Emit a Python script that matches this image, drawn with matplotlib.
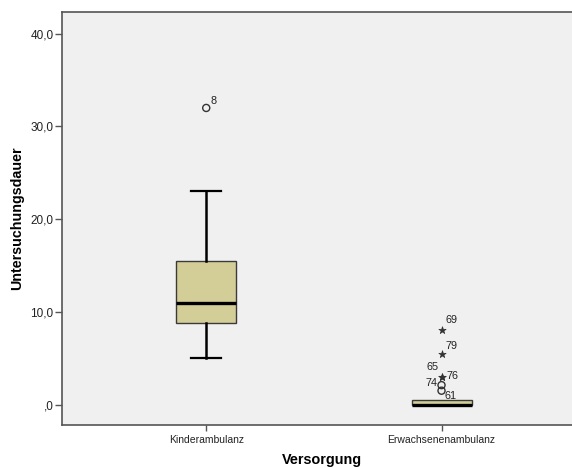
import matplotlib
matplotlib.use("Agg")
import matplotlib.pyplot as plt

# ---- data ----
categories = ["Kinderambulanz", "Erwachsenenambulanz"]
whislo = [5.0, 0.0]
q1 = [8.8, 0.0]
med = [11.0, 0.0]
q3 = [15.5, 0.5]
whishi = [23.0, 0.5]

# outliers (circles) and extremes (stars) with case labels
out_cat = [0, 1, 1]
out_val = [32.0, 2.1, 1.5]
out_lab = ["8", "74", "61"]
ext_cat = [1, 1, 1, 1]
ext_val = [3.0, 3.0, 5.5, 8.0]
ext_lab = ["65", "76", "79", "69"]

yticks = [0, 10, 20, 30, 40]
ytick_labels = [",0", "10,0", "20,0", "30,0", "40,0"]

# label offsets in pixels (dx, dy, ha)
out_off = [(4, 7, "left"), (-4, 2, "right"), (3, -5, "left")]
ext_off = [(-15, 10, "left"), (5, 1, "left"), (4, 8, "left"), (4, 10, "left")]

plt.rcParams["font.family"] = ["Liberation Sans", "DejaVu Sans"]

fig = plt.figure(figsize=(5.72, 4.68), dpi=100)
fig.patch.set_facecolor("white")
ax = fig.add_axes([62/572, 43/468, 1 - 62/572 + 0.001, 413/468])
ax.set_facecolor("#F0F0F0")

positions = [1, 2]
stats = []
for i in range(2):
    stats.append(dict(whislo=whislo[i], q1=q1[i], med=med[i], q3=q3[i],
                      whishi=whishi[i], fliers=[], label=categories[i]))

res = ax.bxp(stats, positions=positions, widths=0.255, capwidths=0.128,
             patch_artist=True, showfliers=False,
             boxprops=dict(facecolor="#D3CE97", edgecolor="#3A3A3A", linewidth=1.0),
             medianprops=dict(color="black", linewidth=2.4),
             whiskerprops=dict(color="black", linewidth=1.8),
             capprops=dict(color="black", linewidth=1.6))
# second group has no visible whiskers
for art in res["caps"][2:] + res["whiskers"][2:]:
    art.set_visible(False)

ox = [positions[c] for c in out_cat]
ax.scatter(ox, out_val, s=26, facecolors="none", edgecolors="#333333",
           linewidths=1.0, zorder=5)
ex = [positions[c] for c in ext_cat]
ax.scatter(ex, ext_val, s=30, marker="*", color="#333333",
           linewidths=0.5, zorder=5)

for x, y, lab, (dx, dy, ha) in zip(ox, out_val, out_lab, out_off):
    ax.annotate(lab, (x, y), xytext=(dx, dy), textcoords="offset pixels",
                ha=ha, va="center", fontsize=7.8, color="#222222")
for x, y, lab, (dx, dy, ha) in zip(ex, ext_val, ext_lab, ext_off):
    ax.annotate(lab, (x, y), xytext=(dx, dy), textcoords="offset pixels",
                ha=ha, va="center", fontsize=7.8, color="#222222")

ax.set_xlim(0.387, 2.557)
ax.set_ylim(-2.2, 42.35)
ax.set_yticks(yticks)
ax.set_yticklabels(ytick_labels)
ax.set_xticks(positions)
ax.set_xticklabels(categories)

for s in ["left", "bottom", "top"]:
    ax.spines[s].set_color("#555555")
    ax.spines[s].set_linewidth(1.2)
ax.spines["right"].set_visible(False)

ax.tick_params(axis="y", direction="out", length=5, width=1, color="#555555",
               labelsize=8.5, labelcolor="#222222", pad=1)
ax.tick_params(axis="x", direction="out", length=4, width=1, color="#555555",
               labelsize=7.5, labelcolor="#222222", pad=3)

ax.set_ylabel("Untersuchungsdauer", fontsize=10.3, fontweight="bold")
ax.yaxis.set_label_coords((24 - 62) / 510, 0.5)
ax.set_xlabel("Versorgung", fontsize=10.4, fontweight="bold")
ax.xaxis.set_label_coords((322 - 62) / 510, -0.068)

fig.savefig("out.png", dpi=100)
